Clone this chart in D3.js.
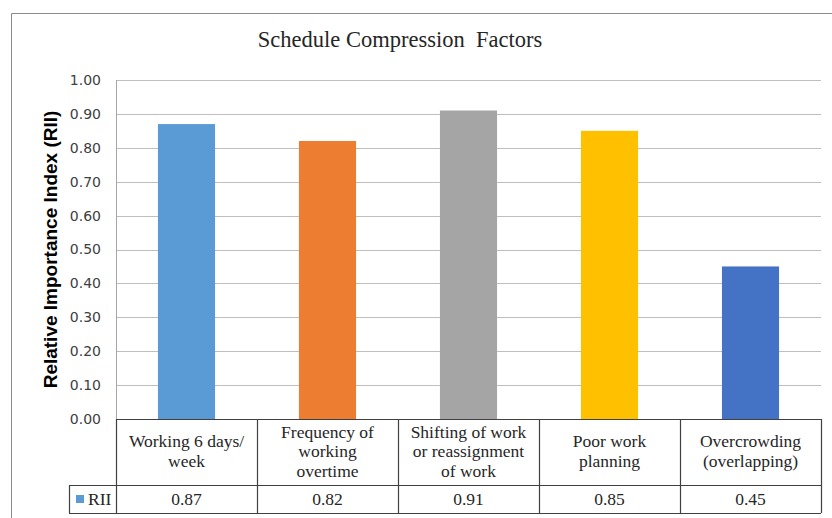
<!DOCTYPE html>
<html>
<head>
<meta charset="utf-8">
<script src="https://cdn.jsdelivr.net/npm/d3@7"></script>
<style>
  body { margin: 0; background: #fff; }
  svg { display: block; }
</style>
</head>
<body>
<div id="chart"></div>
<script>
// chart data
const categories = [
  ["Working 6 days/", "week"],
  ["Frequency of", "working", "overtime"],
  ["Shifting of work", "or reassignment", "of work"],
  ["Poor work", "planning"],
  ["Overcrowding", "(overlapping)"]
];
const values = [0.87, 0.82, 0.91, 0.85, 0.45];
const barColors = ["#5B9BD5", "#ED7D31", "#A5A5A5", "#FFC000", "#4472C4"];
const yTicks = [0, 0.1, 0.2, 0.3, 0.4, 0.5, 0.6, 0.7, 0.8, 0.9, 1.0];
const seriesName = "RII";

const width = 832;
const height = 518;
const plot = { left: 116, right: 821, top: 80, bottom: 419 };
const headerBottom = 485;
const tableBottom = 513;
const legendLeft = 69;
const serif = "'Liberation Serif', 'Times New Roman', serif";
const cellFont = "17.5px";

const svg = d3.select("#chart")
  .append("svg")
  .attr("width", width)
  .attr("height", height);

// outer chart border (cut off on the right and bottom)
svg.append("path")
  .attr("d", "M11.5,518 V13.5 H832")
  .attr("fill", "none")
  .attr("stroke", "#8c8c8c")
  .attr("stroke-width", 1);

// title
svg.append("text")
  .attr("x", 400)
  .attr("y", 47)
  .attr("text-anchor", "middle")
  .style("font-family", serif)
  .style("font-size", "22.5px")
  .style("white-space", "pre")
  .style("fill", "#262626")
  .text("Schedule Compression  Factors");

const x = d3.scaleBand()
  .domain(d3.range(values.length))
  .range([plot.left, plot.right])
  .paddingInner(0)
  .paddingOuter(0);

const y = d3.scaleLinear()
  .domain([0, 1])
  .range([plot.bottom, plot.top]);

// gridlines
svg.append("g")
  .selectAll("line")
  .data(yTicks.filter(d => d > 0))
  .enter()
  .append("line")
  .attr("x1", plot.left)
  .attr("x2", plot.right)
  .attr("y1", d => Math.round(y(d)) + 0.5)
  .attr("y2", d => Math.round(y(d)) + 0.5)
  .attr("stroke", "#bfbfbf")
  .attr("stroke-width", 1);

// y axis line + labels
svg.append("line")
  .attr("x1", plot.left + 0.5).attr("x2", plot.left + 0.5)
  .attr("y1", plot.top).attr("y2", plot.bottom)
  .attr("stroke", "#a6a6a6");

const yAxis = svg.append("g")
  .attr("transform", "translate(" + plot.left + ",0)")
  .call(d3.axisLeft(y).tickValues(yTicks).tickFormat(d3.format(".2f")).tickSize(0).tickPadding(15));
yAxis.select(".domain").remove();
yAxis.selectAll("text")
  .style("font-family", "'DejaVu Sans', Verdana, sans-serif")
  .style("font-size", "14px")
  .style("fill", "#404040");

// axis title
svg.append("text")
  .attr("transform", "translate(57," + ((plot.top + plot.bottom) / 2) + ") rotate(-90)")
  .attr("text-anchor", "middle")
  .style("font-family", "'Liberation Sans', Arial, sans-serif")
  .style("font-weight", "bold")
  .style("font-size", "19px")
  .style("fill", "#000")
  .text("Relative Importance Index (RII)");

// bars
const barW = x.bandwidth() * 0.405;
svg.append("g")
  .selectAll("rect")
  .data(values)
  .enter()
  .append("rect")
  .attr("x", (d, i) => x(i) + (x.bandwidth() - barW) / 2)
  .attr("y", d => y(d))
  .attr("width", barW)
  .attr("height", d => y(0) - y(d))
  .attr("fill", (d, i) => barColors[i]);

// data table
const table = svg.append("g")
  .attr("fill", "none")
  .attr("stroke", "#404040")
  .attr("stroke-width", 1.2);

table.append("line")
  .attr("x1", plot.left).attr("x2", plot.right)
  .attr("y1", plot.bottom + 0.5).attr("y2", plot.bottom + 0.5);
table.append("line")
  .attr("x1", legendLeft).attr("x2", plot.right)
  .attr("y1", headerBottom + 0.5).attr("y2", headerBottom + 0.5);
table.append("line")
  .attr("x1", legendLeft).attr("x2", plot.right)
  .attr("y1", tableBottom + 0.5).attr("y2", tableBottom + 0.5);
table.append("line")
  .attr("x1", legendLeft + 0.5).attr("x2", legendLeft + 0.5)
  .attr("y1", headerBottom).attr("y2", tableBottom);
table.selectAll(".vdiv")
  .data(d3.range(values.length + 1))
  .enter()
  .append("line")
  .attr("x1", i => (i < values.length ? x(i) : plot.right) + 0.5)
  .attr("x2", i => (i < values.length ? x(i) : plot.right) + 0.5)
  .attr("y1", plot.bottom)
  .attr("y2", tableBottom);

// category labels
const lineH = 19.5;
svg.append("g")
  .selectAll("text")
  .data(categories)
  .enter()
  .append("text")
  .attr("text-anchor", "middle")
  .style("font-family", serif)
  .style("font-size", cellFont)
  .style("fill", "#262626")
  .each(function(lines, i) {
    const cx = x(i) + x.bandwidth() / 2;
    const midY = (plot.bottom + headerBottom) / 2 + 5;
    const startY = midY - (lines.length - 1) * lineH / 2;
    d3.select(this).selectAll("tspan")
      .data(lines)
      .enter()
      .append("tspan")
      .attr("x", cx)
      .attr("y", (l, j) => startY + j * lineH)
      .text(l => l);
  });

// value row
svg.append("g")
  .selectAll("text")
  .data(values)
  .enter()
  .append("text")
  .attr("x", (d, i) => x(i) + x.bandwidth() / 2)
  .attr("y", (headerBottom + tableBottom) / 2 + 5.5)
  .attr("text-anchor", "middle")
  .style("font-family", serif)
  .style("font-size", cellFont)
  .style("fill", "#262626")
  .text(d => d3.format(".2f")(d));

// legend key
svg.append("rect")
  .attr("x", 76).attr("y", 495)
  .attr("width", 8).attr("height", 8)
  .attr("fill", barColors[0]);
svg.append("text")
  .attr("x", 88)
  .attr("y", (headerBottom + tableBottom) / 2 + 5.5)
  .style("font-family", serif)
  .style("font-size", cellFont)
  .style("fill", "#262626")
  .text(seriesName);
</script>
</body>
</html>
